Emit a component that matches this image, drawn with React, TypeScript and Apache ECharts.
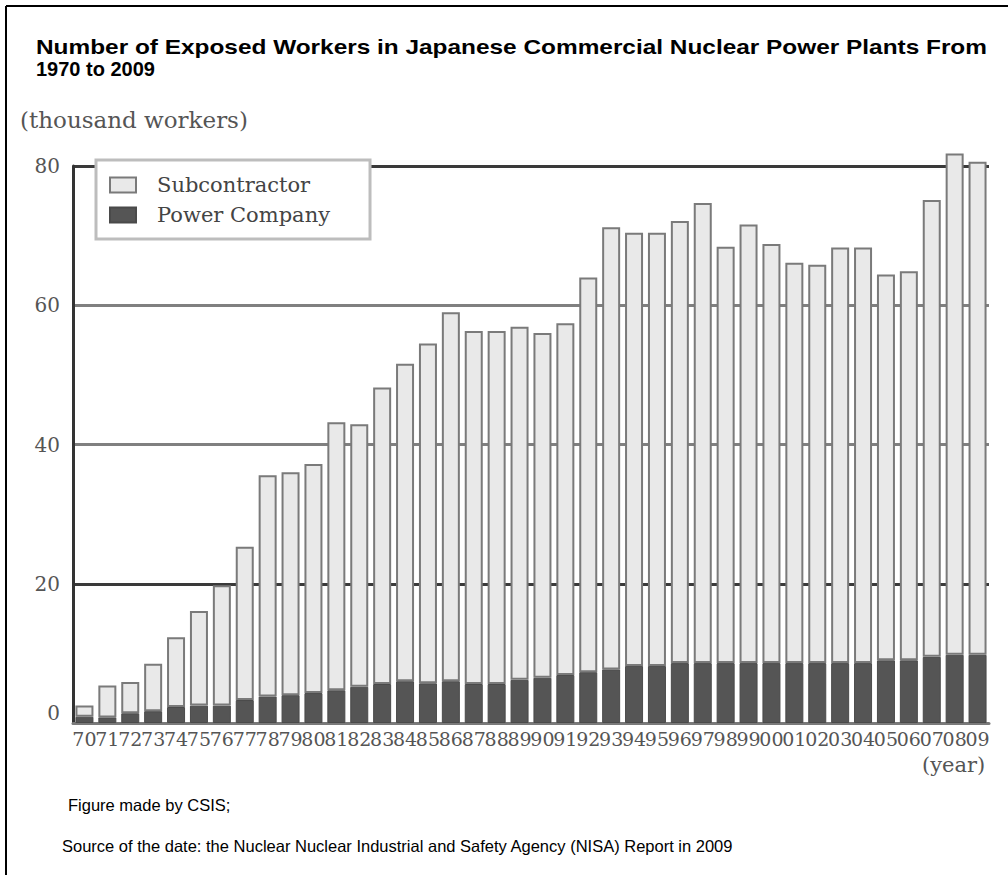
import React, { useEffect, useRef } from "react";
import * as echarts from "echarts";

const years = ["70","71","72","73","74","75","76","77","78","79","80","81","82","83","84","85","86","87","88","89","90","91","92","93","94","95","96","97","98","99","00","01","02","03","04","05","06","07","08","09"];

// thousand workers
const powerCompany = [0.9,0.8,1.4,1.7,2.3,2.5,2.5,3.3,3.8,4.0,4.3,4.7,5.2,5.6,6.0,5.7,6.0,5.6,5.6,6.2,6.5,6.9,7.3,7.7,8.2,8.2,8.6,8.6,8.6,8.6,8.6,8.6,8.6,8.6,8.6,9.0,9.0,9.5,9.8,9.8];
const subcontractor = [1.6,4.6,4.5,6.8,10.0,13.6,17.3,22.0,31.8,32.0,32.9,38.5,37.7,42.6,45.6,48.8,53.0,50.7,50.7,50.7,49.5,50.5,56.7,63.5,62.2,62.2,63.5,66.1,59.8,63.0,60.2,57.5,57.2,59.7,59.7,55.4,55.9,65.6,72.0,70.8];

const yTicks = { min: 0, max: 80, interval: 20 };

const titleLine1 = "Number of Exposed Workers in Japanese Commercial Nuclear Power Plants From";
const titleLine2 = "1970 to 2009";
const yUnit = "(thousand workers)";
const xUnit = "(year)";
const note1 = "Figure made by CSIS;";
const note2 = "Source of the date: the Nuclear Nuclear Industrial and Safety Agency (NISA) Report in 2009";

const SERIF = '"DejaVu Serif", "Liberation Serif", serif';
const SANS = '"Liberation Sans", Arial, sans-serif';

export default function App() {
  const ref = useRef<HTMLDivElement>(null);
  useEffect(() => {
    if (!ref.current) return;
    const chart = echarts.init(ref.current, null, { renderer: "svg" });
    const option: any = {
      animation: false,
      backgroundColor: "#ffffff",
      legend: {
        data: ["Subcontractor", "Power Company"],
        orient: "vertical",
        left: 96,
        top: 160,
        padding: [13, 40, 12, 13],
        itemWidth: 26,
        itemHeight: 15,
        itemGap: 6,
        icon: "rect",
        backgroundColor: "#ffffff",
        borderColor: "#bdbdbd",
        borderWidth: 3,
        textStyle: { fontFamily: SERIF, fontSize: 21, color: "#444", lineHeight: 24, padding: [0, 0, 0, 16] },
      },
      grid: { left: 73, right: 19, top: 166, bottom: 152 },
      xAxis: {
        type: "category",
        data: years,
        axisLine: { lineStyle: { color: "#7a7a7a", width: 3 } },
        axisTick: { show: false },
        axisLabel: { interval: 0, margin: 6, fontFamily: SERIF, fontSize: 19, color: "#555", hideOverlap: false },
      },
      yAxis: {
        type: "value",
        min: yTicks.min,
        max: yTicks.max,
        interval: yTicks.interval,
        axisLine: { show: true, lineStyle: { color: "#333", width: 3 } },
        axisTick: { show: false },
        splitLine: { show: true, lineStyle: { color: ["#777", "#3a3a3a", "#808080", "#808080", "#3a3a3a"], width: 3 } },
        axisLabel: {
          margin: 13,
          fontFamily: SERIF,
          fontSize: 20,
          color: "#555",
          formatter: (v: number) => (v === 0 ? "{z|0}" : String(v)),
          rich: { z: { fontFamily: SERIF, fontSize: 20, color: "#555", padding: [0, 0, 20, 0] } },
        },
      },
      series: [
        {
          name: "Power Company",
          type: "bar",
          stack: "total",
          barWidth: 18,
          clip: false,
          data: powerCompany,
          itemStyle: { color: "#555555", borderColor: "#4a4a4a", borderWidth: 1 },
        },
        {
          name: "Subcontractor",
          type: "bar",
          stack: "total",
          barWidth: 18,
          clip: false,
          data: subcontractor,
          itemStyle: { color: "#e9e9e9", borderColor: "#7a7a7a", borderWidth: 2 },
        },
      ],
      graphic: [
        { type: "line", shape: { x1: 6, y1: 6, x2: 1008, y2: 6 }, style: { stroke: "#000", lineWidth: 2 } },
        { type: "line", shape: { x1: 6, y1: 6, x2: 6, y2: 875 }, style: { stroke: "#000", lineWidth: 2 } },
        { type: "text", x: 36, y: 47, scaleX: 1.22, style: { text: titleLine1, font: `bold 20px ${SANS}`, fill: "#000", textVerticalAlign: "middle" } },
        { type: "text", x: 36, y: 69, style: { text: titleLine2, font: `bold 20px ${SANS}`, fill: "#000", textVerticalAlign: "middle" } },
        { type: "text", x: 20, y: 120, style: { text: yUnit, font: `23px ${SERIF}`, fill: "#555", textVerticalAlign: "middle" } },
        { type: "text", x: 922, y: 765, style: { text: xUnit, font: `21px ${SERIF}`, fill: "#555", textVerticalAlign: "middle" } },
        { type: "text", x: 68, y: 805, style: { text: note1, font: `16.5px ${SANS}`, fill: "#000", textVerticalAlign: "middle" } },
        { type: "text", x: 62, y: 846, style: { text: note2, font: `16.5px ${SANS}`, fill: "#000", textVerticalAlign: "middle" } },
      ],
    };
    chart.setOption(option);
    return () => chart.dispose();
  }, []);
  return (
    <div style={{ position: "fixed", left: 0, top: 0, width: 1008, height: 875, background: "#fff" }}>
      <div ref={ref} style={{ width: 1008, height: 875 }} />
    </div>
  );
}
